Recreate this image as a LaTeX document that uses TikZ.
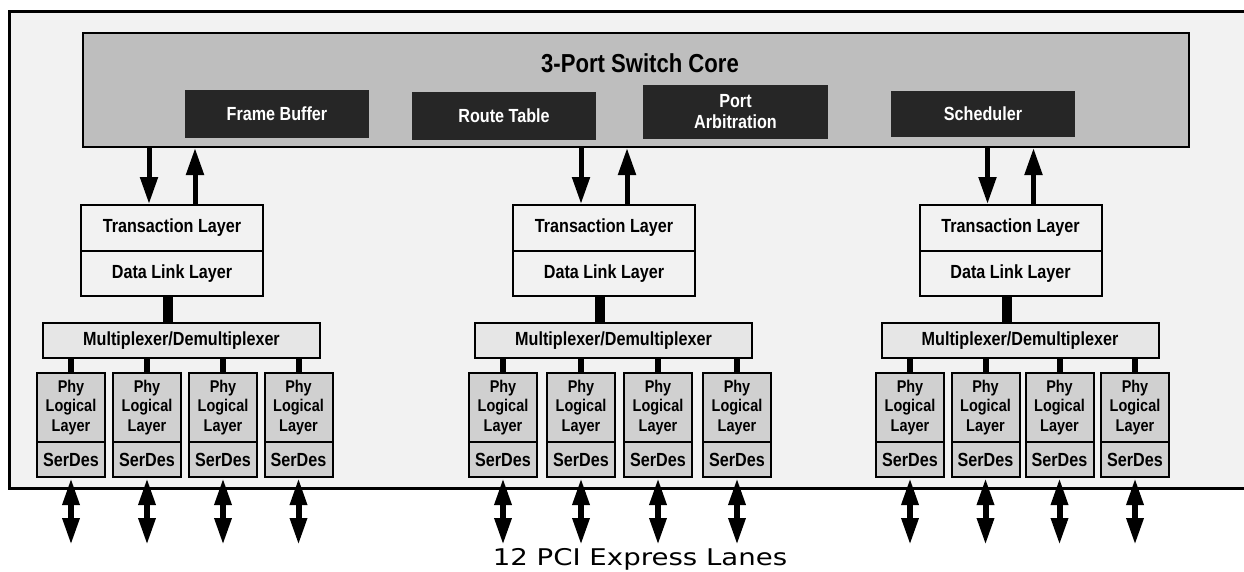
\documentclass[tikz,border=0pt]{standalone}
\usepackage{fontspec}
\usetikzlibrary{arrows.meta,calc}
\newfontfamily\blockfont[FakeStretch=0.85]{Liberation Sans}
\newfontfamily\lanefont[FakeStretch=1.2]{DejaVu Sans}
\definecolor{framebg}{RGB}{242,242,242}
\definecolor{coregray}{RGB}{190,190,190}
\definecolor{unitblack}{RGB}{38,38,38}
\definecolor{muxgray}{RGB}{230,230,230}
\definecolor{phygray}{RGB}{208,208,208}

\begin{document}
\begin{tikzpicture}[x=1pt,y=-1pt,
  box/.style={draw,line width=2pt,inner sep=0pt,align=center},
  unit/.style={fill=unitblack,text=white,inner sep=0pt,align=center,minimum width=184pt,minimum height=48pt,
    font=\blockfont\bfseries\fontsize{19}{21}\selectfont},
  layer/.style={box,fill=framebg,minimum width=182pt,minimum height=46pt,font=\blockfont\bfseries\fontsize{19}{21}\selectfont},
  mux/.style={box,fill=muxgray,minimum width=277pt,minimum height=35pt,font=\blockfont\bfseries\fontsize{19}{21}\selectfont},
  phy/.style={box,fill=phygray,minimum width=68pt,minimum height=69pt,font=\blockfont\bfseries\fontsize{17}{19.5}\selectfont},
  serdes/.style={box,fill=phygray,minimum width=68pt,minimum height=35pt,font=\blockfont\bfseries\fontsize{19}{21}\selectfont},
  corearrow/.style={line width=5pt,-{Triangle[width=17pt,length=27pt]}},
  link/.style={line width=10pt},
  sublink/.style={line width=6pt},
  lane/.style={line width=6pt,{Triangle[width=16pt,length=27pt]}-{Triangle[width=16pt,length=27pt]}}]
\useasboundingbox (0,0) rectangle (1244,571);
\fill[framebg] (9,11) rectangle (1260,488);
\draw[line width=3pt] (1260,11) -- (9,11) -- (9,488) -- (1260,488);
\node[box,fill=coregray,minimum width=1106pt,minimum height=114pt] (core) at (636,90) {};
\node[font=\blockfont\bfseries\fontsize{26}{28}\selectfont] (coretitle) at (640,63) {3-Port Switch Core};
\node[unit] (fbuf) at (277,114) {Frame Buffer};
\node[unit] (rtab) at (504,116) {Route Table};
\node[unit,minimum width=185pt,minimum height=54pt] (parb) at (735.5,112) {Port\\Arbitration};
\node[unit,minimum height=46pt] (sched) at (983,114) {Scheduler};
\foreach \p/\c/\xa/\xb/\xc/\xd in {1/172/71/147/223/298.5,2/604/503/581/658/737,3/1010.5/910/985.5/1059.5/1135} {
  \node[layer] (tl\p) at (\c,228) {Transaction Layer};
  \node[layer,minimum height=45pt] (dll\p) at (\c,273.5) {Data Link Layer};
  \node[mux] (mux\p) at (\c+9.5,340.5) {Multiplexer/Demultiplexer};
  \draw[corearrow] ([xshift=-23pt]tl\p.north |- core.south) -- ([xshift=-23pt]tl\p.north);
  \draw[corearrow] ([xshift=23pt]tl\p.north) -- ([xshift=23pt]tl\p.north |- core.south);
  \draw[link] ([xshift=-4pt]dll\p.south) -- ([xshift=-4pt]dll\p.south |- mux\p.north);
  \foreach \i/\x in {1/\xa,2/\xb,3/\xc,4/\xd} {
    \node[phy] (phy\p\i) at (\x,407.5) {Phy\\Logical\\Layer};
    \node[serdes] (sd\p\i) at (\x,459.5) {SerDes};
    \draw[sublink] (phy\p\i.north) -- (phy\p\i.north |- mux\p.south);
    \coordinate (lane\p\i) at ($(sd\p\i.south)+(0,67)$);
    \draw[lane] (sd\p\i.south) -- (lane\p\i);
  }
}
\node[font=\lanefont\fontsize{23}{25}\selectfont] (lanes) at (640,559) {12 PCI Express Lanes};
\end{tikzpicture}
\end{document}
